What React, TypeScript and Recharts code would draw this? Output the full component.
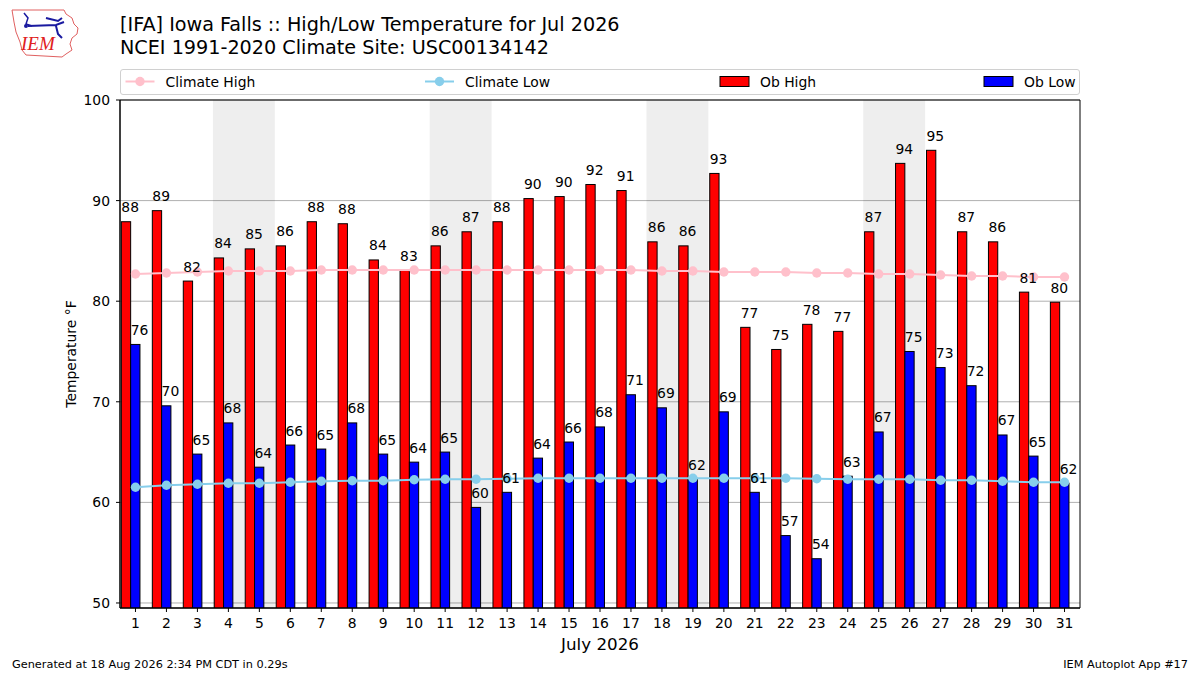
import React from "react";
import { ComposedChart, Bar, Line, XAxis, YAxis, CartesianGrid, ReferenceArea, LabelList } from "recharts";

// Iowa Falls (IFA), July 2026, values in °F
const DAYS = [1, 2, 3, 4, 5, 6, 7, 8, 9, 10, 11, 12, 13, 14, 15, 16, 17, 18, 19, 20, 21, 22, 23, 24, 25, 26, 27, 28, 29, 30, 31];
const OB_HIGH = [
  87.9, 89.0, 82.0, 84.3, 85.2, 85.5, 87.9, 87.7, 84.1, 83.1, 85.5, 86.9, 87.9, 90.2, 90.4, 91.6,
  91.0, 85.9, 85.5, 92.7, 77.4, 75.2, 77.7, 77.0, 86.9, 93.7, 95.0, 86.9, 85.9, 80.9, 79.9,
];
const OB_LOW = [
  75.7, 69.6, 64.8, 67.9, 63.5, 65.7, 65.3, 67.9, 64.8, 64.0, 65.0, 59.5, 61.0, 64.4, 66.0, 67.5,
  70.7, 69.4, 62.3, 69.0, 61.0, 56.7, 54.4, 62.6, 67.0, 75.0, 73.4, 71.6, 66.7, 64.6, 61.9,
];
const CLIMATE_HIGH = [
  82.7, 82.8, 82.9, 83.0, 83.0, 83.0, 83.1, 83.1, 83.1, 83.1, 83.1, 83.1, 83.1, 83.1, 83.1, 83.1,
  83.1, 83.0, 83.0, 82.9, 82.9, 82.9, 82.8, 82.8, 82.7, 82.7, 82.6, 82.5, 82.5, 82.4, 82.4,
];
const CLIMATE_LOW = [
  61.5, 61.7, 61.8, 61.9, 61.9, 62.0, 62.1, 62.15, 62.15, 62.25, 62.3, 62.3, 62.35, 62.4, 62.4, 62.4,
  62.4, 62.4, 62.4, 62.4, 62.4, 62.4, 62.35, 62.3, 62.3, 62.3, 62.2, 62.2, 62.1, 62.0, 62.0,
];
// Saturday/Sunday pairs get the grey band
const WEEKENDS: [number, number][] = [[4, 5], [11, 12], [18, 19], [25, 26]];
const Y_TICKS = [50, 60, 70, 80, 90, 100];

const FONT = "'DejaVu Sans', sans-serif";
// matplotlib at 100 dpi: 10pt ~ 13.9px, 12pt ~ 16.7px, 14pt ~ 19.4px
const SMALL = 13.9;
const LARGE = 16.7;
const TITLE = 19.2;

const data = DAYS.map((day, i) => ({
  day,
  obHigh: OB_HIGH[i],
  obLow: OB_LOW[i],
  climHigh: CLIMATE_HIGH[i],
  climLow: CLIMATE_LOW[i],
}));

// matplotlib put the pair of bars left of the day tick, so nudge each bar half a bar width left
function ShiftedBar(props: any) {
  const { x, y, width, height, fill } = props;
  if (!height || height <= 0) return null;
  return <rect x={x - width / 2} y={y} width={width} height={height} fill={fill} stroke="#000" strokeWidth={1} />;
}

// value labels sit left-aligned on the bar's left edge
function BarValueLabel(props: any) {
  const { x, y, width, value } = props;
  if (value == null) return null;
  return (
    <text
      x={Number(x) - Number(width) / 2}
      y={Number(y) - 9.5}
      fill="#000"
      textAnchor="start"
      style={{ fontSize: SMALL, fontFamily: FONT }}
    >
      {Math.round(Number(value))}
    </text>
  );
}

function YLabel(props: any) {
  const vb = props.viewBox || { x: 60, y: 100, width: 60, height: 508 };
  const cx = vb.x + 16;
  const cy = vb.y + vb.height / 2;
  return (
    <text
      x={cx}
      y={cy}
      transform={`rotate(-90 ${cx} ${cy})`}
      textAnchor="middle"
      fill="#000"
      style={{ fontSize: SMALL, fontFamily: FONT }}
    >
      Temperature °F
    </text>
  );
}

function IemLogo() {
  return (
    <svg width={76} height={56} style={{ position: "absolute", left: 6, top: 4 }}>
      <path
        d="M6 6 L58 6 L60 10 L66 14 L68 20 L72 24 L71 30 L66 34 L64 40 L66 46 L60 50 L56 53 L20 51 L16 46 L14 38 L10 28 L8 18 Z"
        fill="none"
        stroke="#e06060"
        strokeWidth={1}
      />
      <path d="M18 9 L22 14 L20 20 L26 22" fill="none" stroke="#1a1aa0" strokeWidth={1.5} />
      <path d="M22 22 L50 21 L58 18 M40 14 L52 17 L56 14 M50 22 L52 30 L56 34" fill="none" stroke="#1a1aa0" strokeWidth={2} />
      <circle cx={20} cy={22} r={2} fill="#1a1aa0" />
      <text x={15} y={46} fontFamily="'Liberation Serif', 'DejaVu Serif', serif" fontStyle="italic" fontSize={19} fill="#e02020">
        IEM
      </text>
    </svg>
  );
}

function ChartLegend() {
  const items = [
    { label: "Climate High", color: "#ffc0cb", kind: "line", left: 4.5 },
    { label: "Climate Low", color: "#87ceeb", kind: "line", left: 304 },
    { label: "Ob High", color: "#ff0000", kind: "patch", left: 599 },
    { label: "Ob Low", color: "#0000ff", kind: "patch", left: 863 },
  ];
  return (
    <div
      style={{
        position: "absolute",
        left: 120,
        top: 69,
        width: 958,
        height: 24,
        border: "1px solid #d0d0d0",
        borderRadius: 3,
        background: "#fff",
      }}
    >
      <svg width={958} height={24}>
        {items.map((it) => (
          <g key={it.label}>
            {it.kind === "line" ? (
              <>
                <line x1={it.left} x2={it.left + 29} y1={11.5} y2={11.5} stroke={it.color} strokeWidth={2} />
                <circle cx={it.left + 14.5} cy={11.5} r={4.7} fill={it.color} />
              </>
            ) : (
              <rect x={it.left} y={6.5} width={29} height={10} fill={it.color} stroke="#000" strokeWidth={1} />
            )}
            <text x={it.left + 40} y={16.5} fill="#000" style={{ fontSize: SMALL, fontFamily: FONT }}>
              {it.label}
            </text>
          </g>
        ))}
      </svg>
    </div>
  );
}

export default function App() {
  return (
    <div style={{ position: "absolute", left: 0, top: 0, width: 1200, height: 675, background: "#fff", fontFamily: FONT, color: "#000" }}>
      <IemLogo />
      <div style={{ position: "absolute", left: 120, top: 12.9, fontSize: TITLE, lineHeight: "23px", whiteSpace: "nowrap" }}>
        <div>[IFA] Iowa Falls :: High/Low Temperature for Jul 2026</div>
        <div>NCEI 1991-2020 Climate Site: USC00134142</div>
      </div>

      <ComposedChart
        width={1200}
        height={675}
        data={data}
        margin={{ top: 100, right: 120, bottom: 37, left: 60 }}
        barGap={0}
        style={{ position: "absolute", left: 0, top: 0 }}
      >
        <CartesianGrid vertical={false} stroke="#b0b0b0" strokeWidth={1} />
        {WEEKENDS.map(([a, b]) => (
          <ReferenceArea key={a} x1={a} x2={b} y1={49.5} y2={100} fill="#000" fillOpacity={0.068} stroke="none" />
        ))}
        <XAxis
          dataKey="day"
          type="category"
          interval={0}
          tick={{ fontSize: SMALL, fill: "#000" }}
          tickSize={4}
          tickMargin={6}
          tickLine={{ stroke: "#000" }}
          axisLine={{ stroke: "#000" }}
          height={30}
          label={{ value: "July 2026", position: "bottom", offset: 0, fontSize: LARGE, fill: "#000" }}
        />
        <YAxis
          domain={[49.5, 100]}
          ticks={Y_TICKS}
          allowDataOverflow
          tick={{ fontSize: SMALL, fill: "#000" }}
          tickSize={4}
          tickMargin={6}
          tickLine={{ stroke: "#000" }}
          axisLine={{ stroke: "#000" }}
          width={60}
          label={YLabel}
        />
        <Bar dataKey="obHigh" name="Ob High" fill="#ff0000" barSize={9.3} shape={ShiftedBar} isAnimationActive={false}>
          <LabelList dataKey="obHigh" content={BarValueLabel} />
        </Bar>
        <Bar dataKey="obLow" name="Ob Low" fill="#0000ff" barSize={9.3} shape={ShiftedBar} isAnimationActive={false}>
          <LabelList dataKey="obLow" content={BarValueLabel} />
        </Bar>
        <Line
          type="linear"
          dataKey="climHigh"
          name="Climate High"
          stroke="#ffc0cb"
          strokeWidth={2}
          dot={{ r: 4.7, fill: "#ffc0cb", stroke: "none" }}
          isAnimationActive={false}
        />
        <Line
          type="linear"
          dataKey="climLow"
          name="Climate Low"
          stroke="#87ceeb"
          strokeWidth={2}
          dot={{ r: 4.7, fill: "#87ceeb", stroke: "none" }}
          isAnimationActive={false}
        />
        <ReferenceArea x1={1} x2={31} y1={49.5} y2={100} fill="none" stroke="#000" strokeWidth={1} />
      </ComposedChart>

      <ChartLegend />

      <div style={{ position: "absolute", left: 12, top: 658.4, fontSize: 11.3, lineHeight: "14px", whiteSpace: "nowrap" }}>
        Generated at 18 Aug 2026 2:34 PM CDT in 0.29s
      </div>
      <div style={{ position: "absolute", right: 12, top: 658.4, fontSize: 11.3, lineHeight: "14px", whiteSpace: "nowrap" }}>
        IEM Autoplot App #17
      </div>
    </div>
  );
}
